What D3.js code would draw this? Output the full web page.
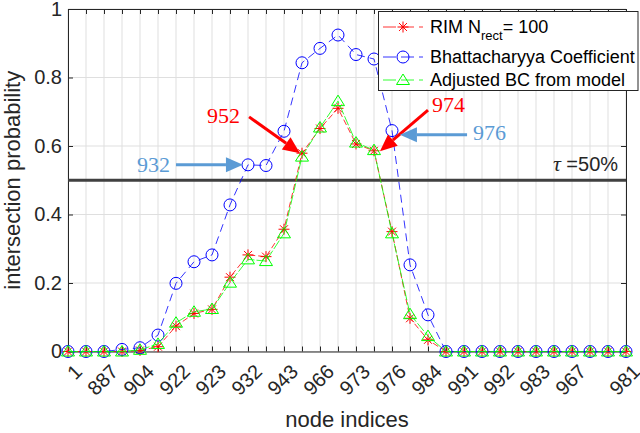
<!DOCTYPE html>
<html>
<head>
<meta charset="utf-8">
<script src="https://cdn.jsdelivr.net/npm/d3@7"></script>
<style>
  html, body { margin: 0; padding: 0; background: #fff; }
  svg { display: block; font-family: "Liberation Sans", Arial, Helvetica, sans-serif; }
</style>
</head>
<body>
<svg id="chart" width="640" height="433"></svg>
<script>
// ---- data ----
const nodeLabels = ["1","","887","","904","","922","","923","","932","","943","","966","",
                    "973","","976","","984","","991","","992","","983","","967","","","981"];
const rimValues = [0,0,0,0,0.003,0.014,0.074,0.111,0.123,0.217,0.282,0.277,0.357,0.579,0.651,0.71,
                   0.606,0.586,0.35,0.097,0.034,0,0,0,0,0,0,0,0,0,0,0];
const bcValues  = [0,0,0,0.006,0.011,0.048,0.199,0.262,0.282,0.428,0.545,0.543,0.643,0.843,0.885,0.924,
                   0.867,0.854,0.645,0.253,0.107,0,0,0,0,0,0,0,0,0,0,0];
const adjValues = [0,0,0,0,0.005,0.022,0.084,0.116,0.124,0.201,0.269,0.264,0.345,0.569,0.654,0.731,
                   0.61,0.588,0.345,0.109,0.045,0,0,0,0,0,0,0,0,0,0,0];
const yTicks = [0, 0.2, 0.4, 0.6, 0.8, 1];
const tau = 0.5;
const seriesNames = ["RIM N", "Bhattacharyya Coefficient", "Adjusted BC from model"];
// annotations in data coordinates (x = node position index, y = probability)
const annotations = [
  {label: "932", color: "#5b9bd5", tx: 5.67, ty: 0.524, anchor: "end",   from: [6.0, 0.545],  to: [9.72, 0.545]},
  {label: "952", color: "#ff0000", tx: 9.56, ty: 0.667, anchor: "end",   from: [10.06, 0.685], to: [12.89, 0.579]},
  {label: "974", color: "#ff0000", tx: 20.22, ty: 0.699, anchor: "start", from: [20.0, 0.705],  to: [17.33, 0.585]},
  {label: "976", color: "#5b9bd5", tx: 22.5, ty: 0.617, anchor: "start", from: [22.17, 0.6325], to: [18.44, 0.6325]}
];

// ---- layout ----
const serif = "'Liberation Serif', 'Times New Roman', 'DejaVu Serif', serif";
const svg = d3.select("#chart");
const L = 68, R = 626, T = 9, B = 351.5;
const x = d3.scaleLinear().domain([0, nodeLabels.length - 1]).range([L, R]);
const y = d3.scaleLinear().domain([0, 1]).range([B, T]);
const axisColor = "#262626";

// grid
const g = svg.append("g");
g.selectAll(".vg").data(nodeLabels.map((d, i) => i)).enter().append("line")
  .attr("x1", d => x(d)).attr("x2", d => x(d)).attr("y1", T).attr("y2", B)
  .attr("stroke", "#dfdfdf").attr("stroke-width", 1);
g.selectAll(".hg").data(yTicks).enter().append("line")
  .attr("x1", L).attr("x2", R).attr("y1", d => y(d)).attr("y2", d => y(d))
  .attr("stroke", "#dfdfdf").attr("stroke-width", 1);

// axes
const xAxis = d3.axisBottom(x).tickValues(nodeLabels.map((d, i) => i))
  .tickFormat(i => nodeLabels[i]).tickSizeInner(-5).tickSizeOuter(0);
const xg = svg.append("g").attr("transform", `translate(0,${B})`).call(xAxis);
xg.attr("font-family", null);
xg.select(".domain").attr("stroke", axisColor);
xg.selectAll(".tick line").attr("stroke", axisColor);
xg.selectAll(".tick text")
  .attr("font-size", 20).attr("fill", axisColor)
  .attr("text-anchor", "end")
  .attr("y", 0).attr("dy", "0.35em")
  .attr("transform", "translate(10,16.5) rotate(-45)");

const xTop = d3.axisTop(x).tickValues(nodeLabels.map((d, i) => i))
  .tickFormat("").tickSizeInner(-5).tickSizeOuter(0);
const xtg = svg.append("g").attr("transform", `translate(0,${T})`).call(xTop);
xtg.select(".domain").attr("stroke", axisColor);
xtg.selectAll(".tick line").attr("stroke", axisColor);

const yAxis = d3.axisLeft(y).tickValues(yTicks).tickFormat(d3.format("~g"))
  .tickSizeInner(-5).tickSizeOuter(0).tickPadding(6);
const yg = svg.append("g").attr("transform", `translate(${L},0)`).call(yAxis);
yg.attr("font-family", null);
yg.select(".domain").attr("stroke", axisColor);
yg.selectAll(".tick line").attr("stroke", axisColor);
yg.selectAll(".tick text").attr("font-size", 20).attr("fill", axisColor);

const yRight = d3.axisRight(y).tickValues(yTicks).tickFormat("").tickSizeInner(-5).tickSizeOuter(0);
const yrg = svg.append("g").attr("transform", `translate(${R},0)`).call(yRight);
yrg.select(".domain").attr("stroke", axisColor);
yrg.selectAll(".tick line").attr("stroke", axisColor);

// axis labels
svg.append("text").attr("x", (L + R) / 2).attr("y", 427).attr("text-anchor", "middle")
  .attr("font-size", 22).attr("fill", axisColor).text("node indices");
svg.append("text").attr("transform", `translate(20,${(T + B) / 2}) rotate(-90)`)
  .attr("text-anchor", "middle").attr("font-size", 22).attr("fill", axisColor)
  .text("intersection probability");

// tau line
svg.append("line").attr("x1", L).attr("x2", R).attr("y1", y(tau)).attr("y2", y(tau))
  .attr("stroke", "#404040").attr("stroke-width", 3);
const tauText = svg.append("text").attr("x", x(30.56)).attr("y", y(0.527))
  .attr("text-anchor", "end").attr("font-size", 20).attr("fill", axisColor);
tauText.append("tspan").style("font-family", serif)
  .style("font-style", "italic").attr("font-size", 22).text("τ");
tauText.append("tspan").text(" =50%");

// marker generators
function star(sel, cx, cy, color) {
  const s = 5.5, d = s * 0.72;
  const p = `M${cx - s},${cy}L${cx + s},${cy}M${cx},${cy - s}L${cx},${cy + s}` +
            `M${cx - d},${cy - d}L${cx + d},${cy + d}M${cx - d},${cy + d}L${cx + d},${cy - d}`;
  sel.append("path").attr("d", p).attr("stroke", color).attr("stroke-width", 1).attr("fill", "none");
}
function circ(sel, cx, cy, color) {
  sel.append("circle").attr("cx", cx).attr("cy", cy).attr("r", 6)
    .attr("stroke", color).attr("stroke-width", 1).attr("fill", "none");
}
function tri(sel, cx, cy, color) {
  const w = 6.5, h = 6;
  sel.append("path").attr("d", `M${cx},${cy - h}L${cx + w},${cy + h * 0.75}L${cx - w},${cy + h * 0.75}Z`)
    .attr("stroke", color).attr("stroke-width", 1).attr("fill", "none");
}

const series = [
  {values: rimValues, color: "#ff0000", dash: "6,3", marker: star},
  {values: bcValues,  color: "#0000ff", dash: "8,5", marker: circ},
  {values: adjValues, color: "#00ff00", dash: "10,2", marker: tri}
];
const line = d3.line().x((d, i) => x(i)).y(d => y(d));
series.forEach(s => {
  const sg = svg.append("g");
  sg.append("path").datum(s.values).attr("d", line).attr("fill", "none")
    .attr("stroke", s.color).attr("stroke-width", 0.8).attr("stroke-dasharray", s.dash);
  s.values.forEach((v, i) => s.marker(sg, x(i), y(v), s.color));
});

// annotations
function arrow(a) {
  const x1 = x(a.from[0]), y1 = y(a.from[1]), x2 = x(a.to[0]), y2 = y(a.to[1]);
  const ang = Math.atan2(y2 - y1, x2 - x1);
  const hl = 17, hw = 7.5;
  const bx = x2 - hl * Math.cos(ang), by = y2 - hl * Math.sin(ang);
  svg.append("line").attr("x1", x1).attr("y1", y1).attr("x2", bx).attr("y2", by)
    .attr("stroke", a.color).attr("stroke-width", 3);
  const px = -Math.sin(ang) * hw, py = Math.cos(ang) * hw;
  svg.append("path").attr("d", `M${x2},${y2}L${bx + px},${by + py}L${bx - px},${by - py}Z`)
    .attr("fill", a.color);
}
annotations.forEach(a => {
  arrow(a);
  svg.append("text").attr("x", x(a.tx)).attr("y", y(a.ty)).attr("text-anchor", a.anchor)
    .style("font-family", serif)
    .attr("font-size", 22).attr("fill", a.color).text(a.label);
});

// legend
const lg = svg.append("g");
lg.append("rect").attr("x", 378.5).attr("y", 11.5).attr("width", 259.5).attr("height", 79)
  .attr("fill", "#fff").attr("stroke", axisColor).attr("stroke-width", 1);
const rows = [27, 57, 80];
series.forEach((s, k) => {
  const ry = rows[k];
  lg.append("line").attr("x1", 383).attr("x2", 423).attr("y1", ry).attr("y2", ry)
    .attr("stroke", s.color).attr("stroke-width", 0.8).attr("stroke-dasharray", "13,5");
  s.marker(lg, 403, ry, s.color);
  const t = lg.append("text").attr("x", 430).attr("y", ry + (k === 0 ? 5.7 : 5.7))
    .attr("font-size", 18).attr("fill", "#000");
  t.append("tspan").text(seriesNames[k]);
  if (k === 0) {
    t.append("tspan").attr("font-size", 13).attr("dy", 7.5).text("rect");
    t.append("tspan").attr("dy", -7.5).text("= 100");
  }
});
</script>
</body>
</html>
